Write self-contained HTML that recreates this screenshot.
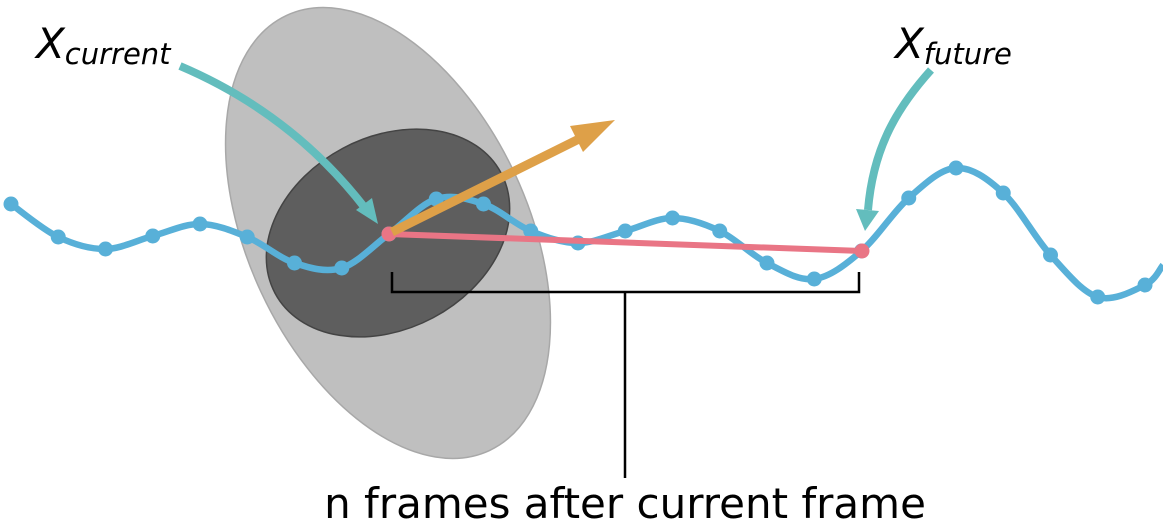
<!DOCTYPE html>
<html><head><meta charset="utf-8"><style>
html,body{margin:0;padding:0;background:#fff;}
svg{display:block;font-family:"DejaVu Sans","Liberation Sans",sans-serif;}
</style></head><body>
<svg id="chart" width="1163" height="526" viewBox="0 0 1163 526" xmlns="http://www.w3.org/2000/svg">
<ellipse cx="388" cy="233" rx="140" ry="240" transform="rotate(-25 388 233)" fill="#bfbfbf" stroke="#a8a8a8" stroke-width="1.5"/>
<ellipse cx="388" cy="233" rx="128" ry="96" transform="rotate(-28 388 233)" fill="#5e5e5e" stroke="#444" stroke-width="1.5"/>
<g id="curve"></g>
<line x1="389" y1="234" x2="862" y2="251" stroke="#e97585" stroke-width="6" stroke-linecap="round"/>
<circle cx="389" cy="234" r="7.5" fill="#e97585"/>
<circle cx="862" cy="251" r="7.5" fill="#e97585"/>
<line x1="392" y1="232" x2="585" y2="136" stroke="#dea048" stroke-width="9"/>
<polygon points="615,120 570,126 583,152" fill="#dea048"/>
<path d="M180,66 C260,100 320,150 365,208" fill="none" stroke="#63bdbd" stroke-width="8"/>
<polygon points="378,224 356,210 372,198" fill="#63bdbd"/>
<path d="M931,70 C895,110 873,150 868,210" fill="none" stroke="#63bdbd" stroke-width="8"/>
<polygon points="865,231 856,209 879,211" fill="#63bdbd"/>
<path d="M392,272 V292 H859 V272 M625,292 V478" fill="none" stroke="#000" stroke-width="2.5"/>
<text x="36" y="58" font-size="42" font-style="italic">X<tspan font-size="29" dy="6">current</tspan></text>
<text x="895" y="58" font-size="42" font-style="italic">X<tspan font-size="29" dy="6">future</tspan></text>
<text x="625" y="518" font-size="42" text-anchor="middle">n frames after current frame</text>
</svg>
<script>
const frameIdx = [0,1,2,3,4,5,6,7,8,9,10,11,12,13,14,15,16,17,18,19,20,21,22,23,24];
const frameY = [204,237,249,236,224,237,263,268,234,199,204,231,243,231,218,231,263,279,251,198,168,193,255,297,285];
const xs = i => 11 + i*47.25;
const g = document.getElementById('curve');
const ns = 'http://www.w3.org/2000/svg';
const pts = frameIdx.map((i,k)=>[xs(i), frameY[k]]);
pts.push([1163, 265]);
let d = 'M'+pts[0][0]+','+pts[0][1];
for(let k=0;k<pts.length-1;k++){
  const p0=pts[Math.max(k-1,0)],p1=pts[k],p2=pts[k+1],p3=pts[Math.min(k+2,pts.length-1)];
  const c1=[p1[0]+(p2[0]-p0[0])/6,p1[1]+(p2[1]-p0[1])/6];
  const c2=[p2[0]-(p3[0]-p1[0])/6,p2[1]-(p3[1]-p1[1])/6];
  d+=' C'+c1[0]+','+c1[1]+' '+c2[0]+','+c2[1]+' '+p2[0]+','+p2[1];
}
const path=document.createElementNS(ns,'path');
path.setAttribute('d',d);path.setAttribute('fill','none');path.setAttribute('stroke','#58b0d8');path.setAttribute('stroke-width','6.5');


g.appendChild(path);
frameIdx.forEach((i,k)=>{
  const c=document.createElementNS(ns,'circle');
  c.setAttribute('cx',xs(i));c.setAttribute('cy',frameY[k]);c.setAttribute('r','7.5');c.setAttribute('fill','#58b0d8');
  
  
  g.appendChild(c);
});
</script>
</body></html>
